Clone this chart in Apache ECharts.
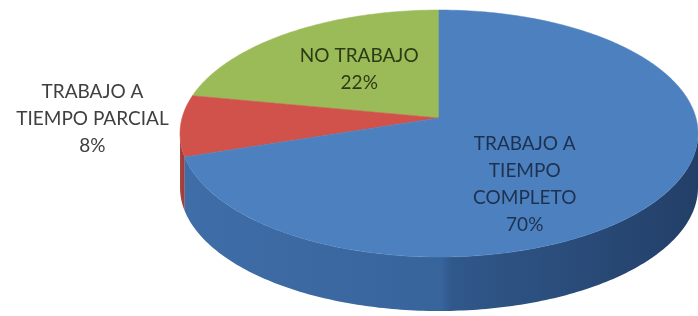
<!DOCTYPE html>
<html style="height: 100%">

<head>
  <meta charset="utf-8">
</head>

<body style="height: 100%; margin: 0; background: #fff">
  <div id="container" style="width: 698px; height: 316px"></div>
  <script type="text/javascript" src="https://cdn.jsdelivr.net/npm/echarts@6/dist/echarts.min.js"></script>
  <script type="text/javascript">
    // datos
    var categories = ['NO TRABAJO', 'TRABAJO A TIEMPO PARCIAL', 'TRABAJO A TIEMPO COMPLETO'];
    var labelText = ['NO TRABAJO', 'TRABAJO A\nTIEMPO PARCIAL', 'TRABAJO A\nTIEMPO\nCOMPLETO'];
    var values = [22, 8, 70];

    // estilo
    var topColors = ['#9bbb59', '#d0524b', '#4d80bf'];
    var sideStops = [
      [[0, '#7f9c44'], [1, '#6f8a3a']],
      [[0, '#a84541'], [1, '#983c39']],
      [[0, '#3f6da7'], [0.5, '#38649c'], [0.52, '#30588a'], [1, '#233f68']]
    ];
    var textColors = ['#2e3a14', '#3f3f3f', '#1d3150'];
    var labelAt = [[-0.308, 0.522], [-1.338, 0.117], [0.331, -0.409]];
    var k = 0.126;              // perspectiva
    var thick = 54;

    var total = values.reduce(function (a, b) { return a + b; }, 0);
    var starts = [];
    var acc = 90;
    values.forEach(function (v) {
      starts.push(acc);
      acc += v / total * 360;
    });

    var s = Math.sqrt(1 - k * k);
    function proj(deg) {
      var t = deg * Math.PI / 180;
      var x = Math.cos(t), y = Math.sin(t);
      var d = 1 + k * y;
      return [x * s / d, (y + k) / d];
    }
    function paramAngle(deg) {
      var p = proj(deg);
      var f = Math.atan2(p[1], p[0]) * 180 / Math.PI;
      while (f < deg - 180) f += 360;
      while (f > deg + 180) f -= 360;
      return f;
    }
    function topArc(api, a0, a1) {
      var pts = [];
      var n = Math.max(2, Math.ceil(Math.abs(a1 - a0)));
      for (var j = 0; j <= n; j++) {
        pts.push(api.coord(proj(a0 + (a1 - a0) * j / n)));
      }
      return pts;
    }
    function rimArc(api, f0, f1, dy) {
      var pts = [];
      var n = Math.max(2, Math.ceil(Math.abs(f1 - f0)));
      for (var j = 0; j <= n; j++) {
        var t = (f0 + (f1 - f0) * j / n) * Math.PI / 180;
        var p = api.coord([Math.cos(t), Math.sin(t)]);
        pts.push([p[0], p[1] + dy]);
      }
      return pts;
    }

    var dom = document.getElementById('container');
    var myChart = echarts.init(dom);

    var option = {
      animation: false,
      backgroundColor: '#fff',
      grid: { left: 180, top: 10, width: 526, height: 247 },
      xAxis: { type: 'value', min: -1, max: 1, show: false },
      yAxis: { type: 'value', min: -1, max: 1, show: false },
      series: [{
        // pared lateral
        type: 'custom',
        z: 1,
        data: values.map(function (v, i) { return [i]; }),
        renderItem: function (params, api) {
          var i = api.value(0);
          var f0 = paramAngle(starts[i]);
          var f1 = paramAngle(starts[i] + values[i] / total * 360);
          var segs = [];
          [[180, 360], [540, 720]].forEach(function (w) {
            var lo = Math.max(f0, w[0]), hi = Math.min(f1, w[1]);
            if (hi > lo) segs.push([lo, hi]);
          });
          var children = segs.map(function (sg) {
            var top = rimArc(api, sg[0], sg[1], 0);
            var bot = rimArc(api, sg[0], sg[1], thick).reverse();
            return {
              type: 'polygon',
              shape: { points: top.concat(bot) },
              style: {
                fill: new echarts.graphic.LinearGradient(0, 0, 1, 0,
                  sideStops[i].map(function (c) { return { offset: c[0], color: c[1] }; }))
              }
            };
          });
          return { type: 'group', children: children };
        }
      }, {
        // cara superior
        type: 'custom',
        z: 2,
        data: values.map(function (v, i) { return [i]; }),
        renderItem: function (params, api) {
          var i = api.value(0);
          var a0 = starts[i], a1 = starts[i] + values[i] / total * 360;
          var pts = [api.coord([0, k])].concat(topArc(api, a0, a1));
          return {
            type: 'polygon',
            shape: { points: pts },
            style: { fill: topColors[i], stroke: topColors[i], lineWidth: 0.5 }
          };
        }
      }, {
        // etiquetas
        type: 'custom',
        z: 3,
        data: values.map(function (v, i) { return [i]; }),
        renderItem: function (params, api) {
          var i = api.value(0);
          var p = api.coord(labelAt[i]);
          return {
            type: 'text',
            x: p[0],
            y: p[1],
            style: {
              text: labelText[i] + '\n' + values[i] + '%',
              fill: textColors[i],
              font: '19px Lato',
              lineHeight: 27,
              align: 'center',
              verticalAlign: 'middle'
            }
          };
        }
      }]
    };

    myChart.setOption(option);
  </script>
</body>

</html>
